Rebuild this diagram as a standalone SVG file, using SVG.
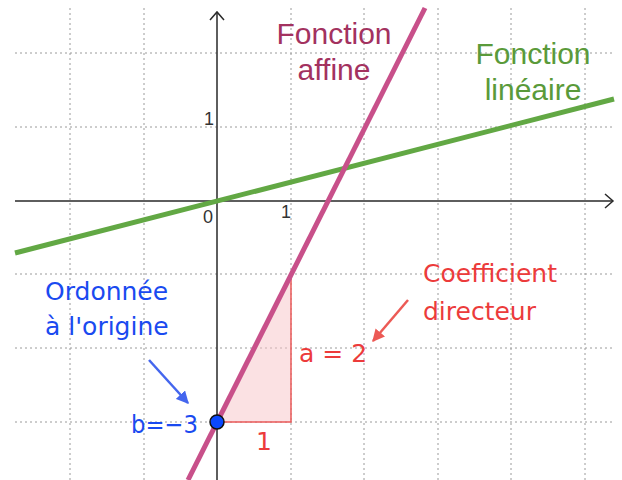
<svg xmlns="http://www.w3.org/2000/svg" width="622" height="480" viewBox="0 0 622 480">
<defs>
<style>
.grid{stroke:#9a9a9a;stroke-width:1;stroke-dasharray:2 3;fill:none}
.axis{stroke:#2a2a2a;stroke-width:1.5;fill:none}
.tick{font-family:"Liberation Sans",Arial,sans-serif;font-size:18px;fill:#333}
.big{font-family:"Liberation Sans",Arial,sans-serif;font-size:30px;text-anchor:middle}
.lab{font-family:"DejaVu Sans","Liberation Sans",sans-serif;font-size:25px}
</style>
<marker id="ah-red" viewBox="0 0 10 10" refX="9" refY="5" markerWidth="5" markerHeight="5" orient="auto"><path d="M0,0 L10,5 L0,10 z" fill="#ec5a55"/></marker>
<marker id="ah-blue" viewBox="0 0 10 10" refX="9" refY="5" markerWidth="5" markerHeight="5" orient="auto"><path d="M0,0 L10,5 L0,10 z" fill="#4466ee"/></marker>
</defs>
<rect width="622" height="480" fill="#fff"/>
<g id="grid">
<path class="grid" d="M70,8V480M144,8V480M291,8V480M364,8V480M438,8V480M511,8V480M585,8V480"/>
<path class="grid" d="M15,53H613M15,127H613M15,274H613M15,348H613M15,422H613"/>
</g>
<g id="axes">
<path class="axis" d="M15,201H612M217,480V12"/>
<path class="axis" d="M605,194L613,201L605,208M210,20L217,12L224,20"/>
<text class="tick" x="204" y="125">1</text>
<text class="tick" x="203" y="223">0</text>
<text class="tick" x="281" y="218">1</text>
</g>
<g id="triangle">
<path d="M217,422H291V274Z" fill="#f7c4c8" fill-opacity="0.5" stroke="#ea5a5a" stroke-width="1.5"/>
</g>
<g id="lineaire">
<line x1="15" y1="253" x2="614" y2="99" stroke="#62a844" stroke-width="5"/>
</g>
<g id="affine">
<line x1="188" y1="480" x2="425" y2="8" stroke="#c8508a" stroke-width="5"/>
</g>
<g id="point">
<circle cx="217" cy="422" r="7" fill="#0a48ff" stroke="#111" stroke-width="1.5"/>
</g>
<g id="connectors">
<line x1="149" y1="360" x2="188" y2="403" stroke="#4466ee" stroke-width="2.5" marker-end="url(#ah-blue)"/>
<line x1="408" y1="300" x2="373" y2="341" stroke="#ec5a55" stroke-width="2.5" marker-end="url(#ah-red)"/>
</g>
<g id="label-affine">
<text class="big" x="334" y="44" fill="#a3325f">Fonction</text>
<text class="big" x="334" y="80" fill="#a3325f">affine</text>
</g>
<g id="label-lineaire">
<text class="big" x="533" y="64" fill="#5a9a3a">Fonction</text>
<text class="big" x="533" y="100" fill="#5a9a3a">linéaire</text>
</g>
<g id="label-ordonnee">
<text class="lab" x="45" y="300" fill="#1a4af0">Ordonnée</text>
<text class="lab" x="45" y="335" fill="#1a4af0">à l'origine</text>
<text class="lab" x="131" y="433" fill="#1a4af0" textLength="67" lengthAdjust="spacingAndGlyphs">b=−3</text>
</g>
<g id="label-coef">
<text class="lab" x="423" y="282" fill="#ec3b3b">Coefficient</text>
<text class="lab" x="423" y="320" fill="#ec3b3b">directeur</text>
<text class="lab" x="299" y="362" fill="#ec3b3b">a = 2</text>
<text class="lab" x="256" y="450" fill="#ec3b3b">1</text>
</g>
</svg>
